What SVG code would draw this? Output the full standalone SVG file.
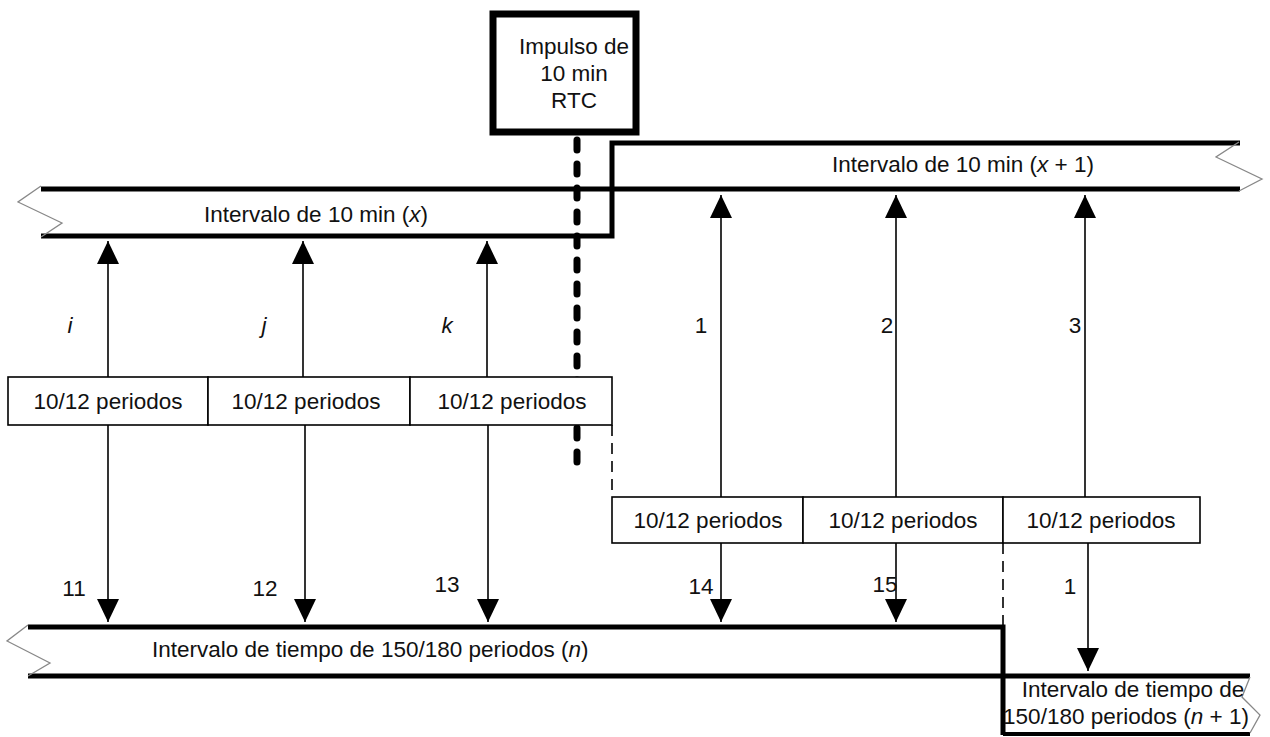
<svg xmlns="http://www.w3.org/2000/svg" width="1270" height="737" viewBox="0 0 1270 737">
<style>
  text { font-family: "Liberation Sans", Arial, sans-serif; font-size: 22.5px; fill: #111; }
  .c { text-anchor: middle; }
  .it { font-style: italic; }
  .band { stroke: #000; stroke-width: 5; fill: none; }
  .zig { stroke: #888; stroke-width: 1.3; fill: none; }
  .box { stroke: #000; stroke-width: 1.6; fill: #fff; }
  .arr { stroke: #000; stroke-width: 1.6; fill: none; }
  .dash { stroke: #000; stroke-width: 1.6; stroke-dasharray: 11 7; fill: none; }
</style>
<defs>
  <marker id="ah" markerUnits="userSpaceOnUse" markerWidth="24" markerHeight="22" viewBox="0 0 24 22" refX="23" refY="11" orient="auto">
    <path d="M0,0 L23,11 L0,22 Z" fill="#000"/>
  </marker>
</defs>
<rect width="1270" height="737" fill="#fff"/>

<g id="rtc-pulse">
  <line x1="577" y1="140" x2="577" y2="468" stroke="#000" stroke-width="7" stroke-linecap="round" stroke-dasharray="10 14"/>
  <rect x="493" y="14" width="143" height="118" fill="#fff" stroke="#000" stroke-width="7"/>
  <text class="c" x="574" y="54">Impulso de</text>
  <text class="c" x="574" y="81">10 min</text>
  <text class="c" x="574" y="108">RTC</text>
</g>

<g id="interval-x">
  <polyline class="band" points="41,189 1240,189"/>
  <polyline class="band" points="41,236 612,236 612,143 1240,143"/>
  <polyline class="zig" points="41,186 18,202 62,223 41,237"/>
  <text class="c" x="316" y="222">Intervalo de 10 min (<tspan class="it">x</tspan>)</text>
</g>

<g id="interval-x1">
  <polyline class="zig" points="1239,142 1216,157 1262,179 1239,191"/>
  <text class="c" x="963" y="172">Intervalo de 10 min (<tspan class="it">x</tspan> + 1)</text>
</g>

<g id="interval-n">
  <polyline class="band" points="28,627 1003,627 1003,735"/>
  <polyline class="band" points="28,676 1250,676"/>
  <line x1="1003" y1="734" x2="1250" y2="734" stroke="#000" stroke-width="4"/>
  <polyline class="zig" points="28,625 7,641 50,663 28,676"/>
  <text x="152" y="657">Intervalo de tiempo de 150/180 periodos (<tspan class="it">n</tspan>)</text>
</g>

<g id="interval-n1">
  <polyline class="zig" points="1250,677 1242,697 1260,715 1250,733"/>
  <text class="c" x="1133" y="697">Intervalo de tiempo de</text>
  <text class="c" x="1126" y="724">150/180 periodos (<tspan class="it">n</tspan> + 1)</text>
</g>

<g id="periods-left">
  <rect class="box" x="8" y="377" width="200" height="48"/>
  <rect class="box" x="208" y="377" width="202" height="48"/>
  <rect class="box" x="410" y="377" width="202" height="48"/>
  <text class="c" x="108" y="409">10/12 periodos</text>
  <text class="c" x="306" y="409">10/12 periodos</text>
  <text class="c" x="512" y="409">10/12 periodos</text>
</g>

<g id="periods-right">
  <rect class="box" x="612" y="497" width="191" height="46"/>
  <rect class="box" x="803" y="497" width="200" height="46"/>
  <rect class="box" x="1003" y="497" width="197" height="46"/>
  <text class="c" x="708" y="528">10/12 periodos</text>
  <text class="c" x="903" y="528">10/12 periodos</text>
  <text class="c" x="1101" y="528">10/12 periodos</text>
</g>

<g id="connectors">
  <line class="dash" x1="612" y1="425" x2="612" y2="497"/>
  <line class="dash" x1="1003" y1="543" x2="1003" y2="625"/>

  <line class="arr" x1="108" y1="377" x2="108" y2="241" marker-end="url(#ah)"/>
  <line class="arr" x1="303" y1="377" x2="303" y2="241" marker-end="url(#ah)"/>
  <line class="arr" x1="487" y1="377" x2="487" y2="241" marker-end="url(#ah)"/>

  <line class="arr" x1="108" y1="425" x2="108" y2="622" marker-end="url(#ah)"/>
  <line class="arr" x1="305" y1="425" x2="305" y2="622" marker-end="url(#ah)"/>
  <line class="arr" x1="488" y1="425" x2="488" y2="622" marker-end="url(#ah)"/>

  <line class="arr" x1="721" y1="497" x2="721" y2="195" marker-end="url(#ah)"/>
  <line class="arr" x1="896" y1="497" x2="896" y2="195" marker-end="url(#ah)"/>
  <line class="arr" x1="1085" y1="497" x2="1085" y2="195" marker-end="url(#ah)"/>

  <line class="arr" x1="721" y1="543" x2="721" y2="622" marker-end="url(#ah)"/>
  <line class="arr" x1="896" y1="543" x2="896" y2="622" marker-end="url(#ah)"/>
  <line class="arr" x1="1088" y1="543" x2="1088" y2="671" marker-end="url(#ah)"/>

  <text class="c it" x="70" y="333">i</text>
  <text class="c it" x="264" y="333">j</text>
  <text class="c it" x="447" y="333">k</text>
  <text class="c" x="701" y="333">1</text>
  <text class="c" x="887" y="333">2</text>
  <text class="c" x="1075" y="333">3</text>
  <text class="c" x="74" y="596">11</text>
  <text class="c" x="265" y="596">12</text>
  <text class="c" x="447" y="592">13</text>
  <text class="c" x="701" y="594">14</text>
  <text class="c" x="885" y="592">15</text>
  <text class="c" x="1070" y="594">1</text>
</g>
</svg>
